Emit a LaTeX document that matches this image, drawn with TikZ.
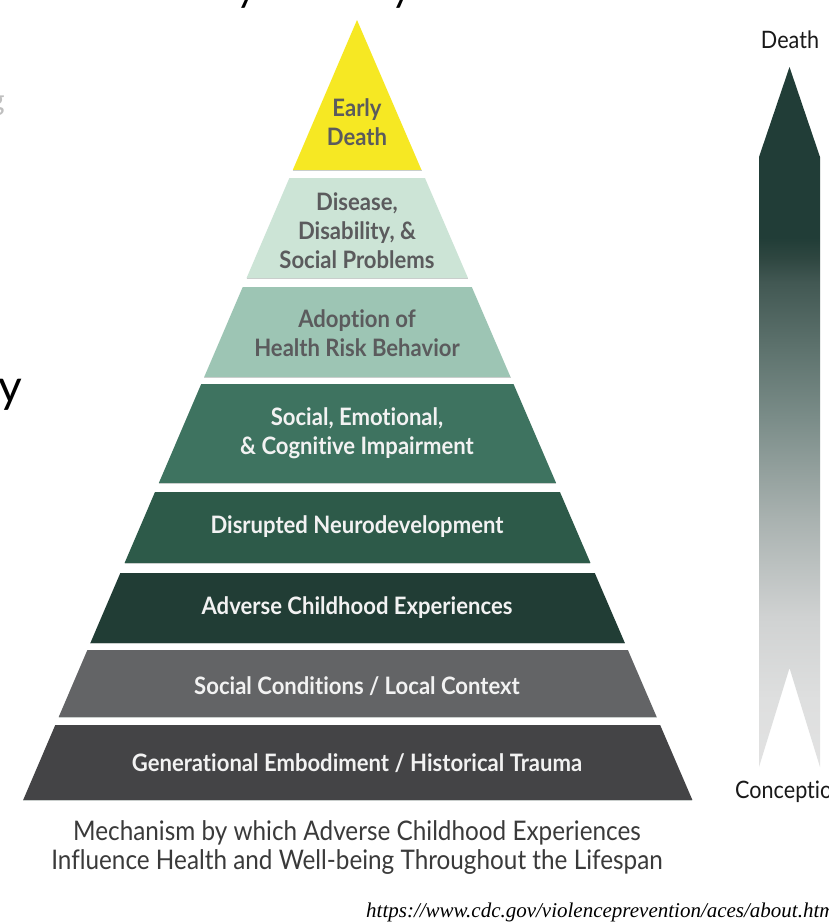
\documentclass[tikz,border=0pt]{standalone}
\usepackage{fontspec}
\setmainfont{Lato}
\newfontfamily\tierfont[FakeStretch=0.92, Ligatures={NoCommon}]{Lato}
\newfontfamily\capfont[FakeStretch=0.9, Ligatures={NoCommon}]{Lato}
\newfontfamily\urlfont{Liberation Serif}

\definecolor{tierA}{HTML}{F6E823}
\definecolor{tierB}{HTML}{CCE4D6}
\definecolor{tierC}{HTML}{9DC5B4}
\definecolor{tierD}{HTML}{3E7360}
\definecolor{tierE}{HTML}{2D5A49}
\definecolor{tierF}{HTML}{213D35}
\definecolor{tierG}{HTML}{636466}
\definecolor{tierH}{HTML}{444446}
\definecolor{darktext}{HTML}{5B5B5D}
\definecolor{lighttext}{HTML}{F2F2F2}
\definecolor{captext}{HTML}{3A3A3A}
\definecolor{edgeline}{HTML}{C9CECC}

% lifespan arrow colours, from conception (bottom) to death (top)
\definecolor{lsA}{RGB}{226,226,226}
\definecolor{lsB}{RGB}{222,223,223}
\definecolor{lsC}{RGB}{208,210,210}
\definecolor{lsD}{RGB}{168,177,175}
\definecolor{lsE}{RGB}{122,140,136}
\definecolor{lsF}{RGB}{94,115,110}
\definecolor{lsG}{RGB}{66,88,83}
\definecolor{lsI}{RGB}{46,70,64}
\definecolor{lsH}{RGB}{33,61,55}

\pgfdeclareverticalshading{lifespan}{100bp}{%
  color(0bp)=(lsA); color(25bp)=(lsA); color(29.8bp)=(lsB);
  color(35.7bp)=(lsC); color(42.9bp)=(lsD); color(50bp)=(lsE);
  color(54.8bp)=(lsF); color(59.6bp)=(lsG); color(61.4bp)=(lsI);
  color(62.8bp)=(lsH); color(75bp)=(lsH); color(100bp)=(lsH)}

% one horizontal slice of the pyramid between two heights
\newcommand{\pyrtier}[3]{%
  \pgfmathsetmacro\pyrTL{357-0.428*(#1-20)}%
  \pgfmathsetmacro\pyrTR{357+0.430*(#1-20)}%
  \pgfmathsetmacro\pyrBL{357-0.428*(#2-20)}%
  \pgfmathsetmacro\pyrBR{357+0.430*(#2-20)}%
  \fill[#3] (\pyrTL,#1) -- (\pyrTR,#1) -- (\pyrBR,#2) -- (\pyrBL,#2) -- cycle;
  \draw[tieredge] (\pyrBL,#2) -- (\pyrBR,#2);}

\tikzset{
  tieredge/.style={edgeline, line width=0.8pt},
  tiertext/.style={align=center, inner sep=0pt,
    font=\tierfont\bfseries\fontsize{24}{29}\selectfont},
  upperlabel/.style={tiertext, text=darktext},
  lowerlabel/.style={tiertext, text=lighttext},
  sidelabel/.style={font=\capfont\fontsize{24}{28}\selectfont, text=black!90},
}

\begin{document}
\begin{tikzpicture}[x=1pt, y=-1pt]
\useasboundingbox (0,0) rectangle (828,924);
\clip (0,0) rectangle (828,924);
\fill[white] (0,0) rectangle (828,924);

% pyramid slices, top to bottom
\pyrtier{20}{170}{tierA}
\pyrtier{178}{278}{tierB}
\pyrtier{287}{377}{tierC}
\pyrtier{384}{483}{tierD}
\pyrtier{492}{563}{tierE}
\pyrtier{573}{643}{tierF}
\pyrtier{650}{717}{tierG}
\pyrtier{725}{800}{tierH}

\node[upperlabel] (early) at (357,122) {Early\\Death};
\node[upperlabel] (disease) at (357,231) {Disease,\\Disability, \&\\Social Problems};
\node[upperlabel] (adoption) at (357,333) {Adoption of\\Health Risk Behavior};
\node[lowerlabel] (impair) at (357,433) {Social, Emotional,\\\& Cognitive Impairment};
\node[lowerlabel] (neuro) at (357,527) {Disrupted Neurodevelopment};
\node[lowerlabel] (aces) at (357,608) {Adverse Childhood Experiences};
\node[lowerlabel] (context) at (357,686) {Social Conditions / Local Context};
\node[lowerlabel] (trauma) at (357,763) {Generational Embodiment / Historical Trauma};

% lifespan arrow
\coordinate (tip) at (789.5,67);
\coordinate (shR) at (820,157);
\coordinate (tailR) at (820,767);
\coordinate (notch) at (789.5,668);
\coordinate (tailL) at (759,767);
\coordinate (shL) at (759,157);
\shade[shading=lifespan] (tip) -- (shR) -- (tailR) -- (notch) -- (tailL) -- (shL) -- cycle;

\node[sidelabel] (death) at (790,40) {Death};
\node[sidelabel, anchor=west, inner sep=0pt] (conception) at (735,792) {Conception};

% caption and source
\node[align=center, inner sep=0pt, text=captext,
      font=\capfont\fontsize{27}{29}\selectfont] (caption) at (357,848)
  {Mechanism by which Adverse Childhood Experiences\\Influence Health and Well-being Throughout the Lifespan};
\node[anchor=base west, inner sep=0pt, text=black,
      font=\urlfont\itshape\fontsize{21}{24}\selectfont] (source) at (366,917)
  {https://www.cdc.gov/violenceprevention/aces/about.html};

% text running in from the page edges
\node[anchor=base east, inner sep=0pt, font=\fontsize{46}{50}\selectfont] (edgey) at (22,402) {y};
\node[anchor=base, inner sep=0pt, font=\fontsize{40}{44}\selectfont] (topyA) at (247,1) {y};
\node[anchor=base, inner sep=0pt, font=\fontsize{40}{44}\selectfont] (topyB) at (402,1) {y};
\node[anchor=base east, inner sep=0pt, text=black!25, font=\fontsize{30}{34}\selectfont] (edgeg) at (5,110) {g};
\end{tikzpicture}
\end{document}
